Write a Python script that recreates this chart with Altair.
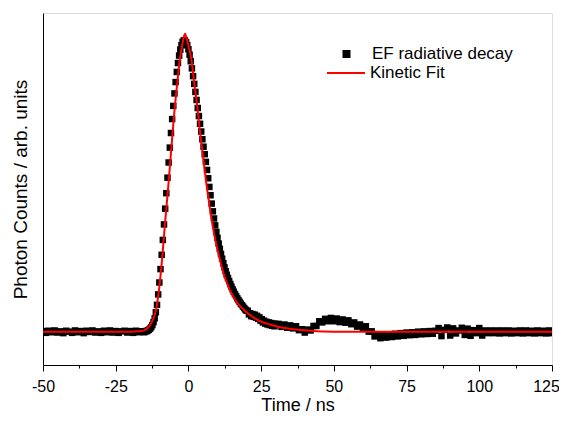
import altair as alt
import pandas as pd

# ---- measured decay (black squares), read from the picture ----
# baseline before the pulse: t = -50 .. -16 ns, 1 ns bins
base_t0, base_step = -50.0, 1.0
base_v = [0.002, -0.004, 0.003, -0.002, 0.004, -0.003, 0.001, -0.005, 0.003, 0.000,
          -0.004, 0.004, -0.002, 0.002, -0.005, 0.003, -0.001, 0.004, -0.003, 0.001,
          -0.004, 0.003, -0.002, 0.004, -0.003, 0.002, -0.004, 0.001, 0.003, -0.003,
          0.002, -0.004, 0.003, -0.002, 0.001]
# pulse region: t = -15.6 .. 30.0 ns, 0.4 ns bins
peak_t0, peak_step = -15.6, 0.4
peak_v = [0.001, -0.002, 0.002, 0.001, 0.004, 0.006, 0.010, 0.015, 0.022, 0.032,
          0.045, 0.065, 0.090, 0.125, 0.165, 0.210, 0.258, 0.308, 0.360, 0.413,
          0.465, 0.517, 0.568, 0.618, 0.667, 0.714, 0.758, 0.800, 0.838, 0.872,
          0.902, 0.927, 0.947, 0.962, 0.973, 0.978, 0.978, 0.972, 0.962, 0.948,
          0.930, 0.908, 0.884, 0.858, 0.832, 0.805, 0.778, 0.751, 0.724, 0.698,
          0.672, 0.646, 0.621, 0.596, 0.570, 0.543, 0.515, 0.486, 0.458, 0.430,
          0.404, 0.380, 0.357, 0.335, 0.315, 0.296, 0.278, 0.261, 0.245, 0.230,
          0.216, 0.203, 0.191, 0.180, 0.170, 0.160, 0.151, 0.142, 0.134, 0.126,
          0.119, 0.112, 0.106, 0.100, 0.094, 0.089, 0.084, 0.079, 0.074, 0.070,
          0.070, 0.058, 0.062, 0.052, 0.059, 0.050, 0.057, 0.047, 0.053, 0.043,
          0.048, 0.037, 0.042, 0.031, 0.037, 0.027, 0.033, 0.024, 0.031, 0.022,
          0.029, 0.020, 0.027, 0.018, 0.026]
# tail: t = 31 .. 125 ns, 1 ns bins
tail_t0, tail_step = 31.0, 1.0
tail_v = [0.026, 0.016, 0.024, 0.013, 0.021, 0.011, 0.018, 0.005, 0.008, -0.003,
          0.007, 0.004, 0.019, 0.019, 0.035, 0.031, 0.043, 0.035, 0.046, 0.035,
          0.044, 0.032, 0.041, 0.030, 0.038, 0.025, 0.031, 0.017, 0.024, 0.012,
          0.018, 0.000, 0.001, -0.016, -0.011, -0.022, -0.011, -0.020, -0.009, -0.018,
          -0.007, -0.016, -0.005, -0.014, -0.003, -0.012, -0.002, -0.011, 0.000, -0.009,
          0.001, -0.008, 0.002, -0.007, 0.003, 0.012, -0.015, 0.006, 0.014, -0.013,
          0.011, -0.006, 0.004, 0.013, -0.011, 0.010, -0.014, 0.005, -0.005, 0.012,
          -0.013, 0.004, -0.005, 0.004, -0.005, 0.004, -0.006, 0.004, -0.005, 0.004,
          -0.006, 0.003, -0.005, 0.004, -0.006, 0.004, -0.005, 0.003, -0.006, 0.004,
          -0.005, 0.003, -0.006, 0.004, -0.005]

# ---- kinetic fit (red line) ----
fit_t = [-50, -20, -17, -15, -14, -13, -12, -11, -10, -9, -8, -7, -6, -5, -4, -3, -2,
         -1.2, -0.5, 0, 1, 2, 3, 4, 5, 6, 7, 8, 9, 10, 11, 12, 13, 14, 15, 16, 18, 20,
         22, 24.6, 28, 32, 36, 42, 50, 125]
fit_v = [0, 0, 0.001, 0.005, 0.012, 0.025, 0.045, 0.08, 0.15, 0.25, 0.37, 0.48, 0.6,
         0.72, 0.82, 0.91, 0.97, 1.0, 0.98, 0.96, 0.915, 0.835, 0.76, 0.67, 0.59, 0.51,
         0.44, 0.375, 0.32, 0.275, 0.235, 0.198, 0.17, 0.145, 0.125, 0.108, 0.083,
         0.065, 0.05, 0.035, 0.024, 0.014, 0.008, 0.003, 0.0, 0.0]

x_ticks = [-50, -37.5, -25, -12.5, 0, 12.5, 25, 37.5, 50, 62.5, 75, 87.5, 100, 112.5, 125]
series_names = ["EF radiative decay", "Kinetic Fit"]

t_data, v_data = [], []
for t0, step, vals in [(base_t0, base_step, base_v), (peak_t0, peak_step, peak_v),
                       (tail_t0, tail_step, tail_v)]:
    for i, v in enumerate(vals):
        t_data.append(round(t0 + i * step, 2))
        v_data.append(v)

df_data = pd.DataFrame({"t": t_data, "v": v_data, "series": series_names[0]})
df_fit = pd.DataFrame({"t": fit_t, "v": fit_v, "series": series_names[1]})

FONT = "Liberation Sans"
x_scale = alt.Scale(domain=[-50, 125], nice=False, zero=False)
y_scale = alt.Scale(domain=[-0.112, 1.07], nice=False, zero=False)

x_axis = alt.Axis(
    values=x_ticks, title="Time / ns", grid=False,
    labelExpr="datum.value % 25 === 0 ? '' + datum.value : ''",
    tickSize={"condition": {"test": "datum.value % 25 === 0", "value": 6}, "value": 3},
    labelOffset={"condition": {"test": "datum.value === 125", "value": -6}, "value": 0},
    labelPadding=7, labelFlush=False, labelOverlap=False,
    labelFont=FONT, labelFontSize=16, labelColor="black",
    titleFont=FONT, titleFontSize=18, titleFontWeight="normal", titleColor="black",
    titleY=45, titleBaseline="alphabetic",
    domainColor="black", tickColor="black", domainWidth=1, tickWidth=1,
)
y_axis = alt.Axis(
    title="Photon Counts / arb. units", grid=False, labels=False, ticks=False,
    titleFont=FONT, titleFontSize=19, titleFontWeight="normal", titleColor="black",
    titleX=-17, titleY=176, titleAngle=270, titleBaseline="alphabetic", titleAlign="center",
    domainColor="black", domainWidth=1,
)

points = alt.Chart(df_data).mark_square(size=42, opacity=1, clip=True).encode(
    x=alt.X("t:Q", scale=x_scale, axis=x_axis),
    y=alt.Y("v:Q", scale=y_scale, axis=y_axis),
    color=alt.Color(
        "series:N",
        scale=alt.Scale(domain=[series_names[0]], range=["black"]),
        legend=alt.Legend(
            title=None, orient="none", legendX=295, legendY=32.5, padding=0,
            symbolType="square", symbolSize=64, symbolStrokeWidth=0, symbolOpacity=1,
            labelOffset=17, labelFont=FONT, labelFontSize=17, labelColor="black",
        ),
    ),
)

line = alt.Chart(df_fit).mark_line(strokeWidth=2, clip=True, interpolate="monotone").encode(
    x=alt.X("t:Q", scale=x_scale, axis=x_axis),
    y=alt.Y("v:Q", scale=y_scale, axis=y_axis),
    stroke=alt.Stroke(
        "series:N",
        scale=alt.Scale(domain=[series_names[1]], range=["red"]),
        legend=alt.Legend(
            title=None, orient="none", legendX=283, legendY=40, padding=0,
            symbolType="stroke", symbolSize=1444, symbolStrokeWidth=2,
            labelOffset=4, labelFont=FONT, labelFontSize=17, labelColor="black",
        ),
    ),
)

chart = alt.layer(points, line).properties(
    width=509, height=352,
    autosize=alt.AutoSizeParams(type="none"),
    padding={"left": 35, "top": 5, "right": 7, "bottom": 50},
).configure_view(stroke="black", strokeWidth=1).configure(background="white")

chart.save("out.html", embed_options={"renderer": "svg", "actions": False})
